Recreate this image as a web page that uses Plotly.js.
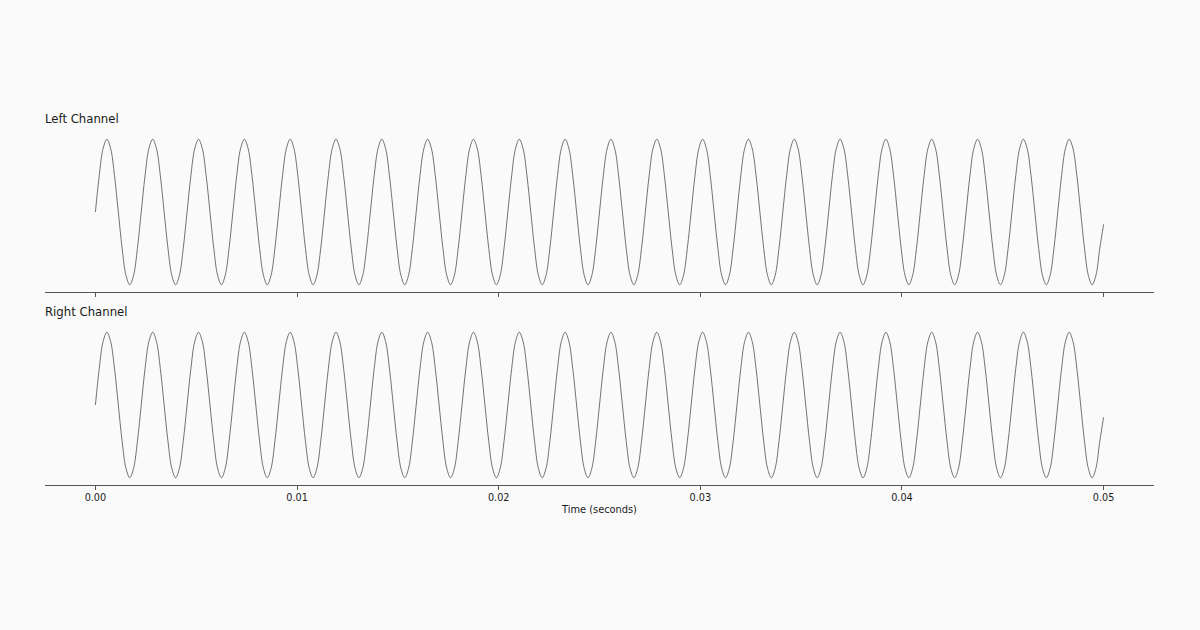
<!DOCTYPE html>
<html>
<head>
<meta charset="utf-8">
<script src="https://cdn.plot.ly/plotly-3.0.1.min.js"></script>
<style>
  html, body { margin: 0; padding: 0; background: #fafafa; }
  #chart { width: 1200px; height: 630px; }
</style>
</head>
<body>
<div id="chart"></div>
<script>
// 440 Hz tone, values read every 1/12 of a cycle (one step = 1/5280 s)
const SAMPLE_START = 0;
const SAMPLE_STEP = 1 / 5280;

const leftChannel = [
  0, 0.5, 0.87, 1, 0.87, 0.5, 0, -0.5, -0.87, -1, -0.87, -0.5,
  0, 0.5, 0.87, 1, 0.87, 0.5, 0, -0.5, -0.87, -1, -0.87, -0.5,
  0, 0.5, 0.87, 1, 0.87, 0.5, 0, -0.5, -0.87, -1, -0.87, -0.5,
  0, 0.5, 0.87, 1, 0.87, 0.5, 0, -0.5, -0.87, -1, -0.87, -0.5,
  0, 0.5, 0.87, 1, 0.87, 0.5, 0, -0.5, -0.87, -1, -0.87, -0.5,
  0, 0.5, 0.87, 1, 0.87, 0.5, 0, -0.5, -0.87, -1, -0.87, -0.5,
  0, 0.5, 0.87, 1, 0.87, 0.5, 0, -0.5, -0.87, -1, -0.87, -0.5,
  0, 0.5, 0.87, 1, 0.87, 0.5, 0, -0.5, -0.87, -1, -0.87, -0.5,
  0, 0.5, 0.87, 1, 0.87, 0.5, 0, -0.5, -0.87, -1, -0.87, -0.5,
  0, 0.5, 0.87, 1, 0.87, 0.5, 0, -0.5, -0.87, -1, -0.87, -0.5,
  0, 0.5, 0.87, 1, 0.87, 0.5, 0, -0.5, -0.87, -1, -0.87, -0.5,
  0, 0.5, 0.87, 1, 0.87, 0.5, 0, -0.5, -0.87, -1, -0.87, -0.5,
  0, 0.5, 0.87, 1, 0.87, 0.5, 0, -0.5, -0.87, -1, -0.87, -0.5,
  0, 0.5, 0.87, 1, 0.87, 0.5, 0, -0.5, -0.87, -1, -0.87, -0.5,
  0, 0.5, 0.87, 1, 0.87, 0.5, 0, -0.5, -0.87, -1, -0.87, -0.5,
  0, 0.5, 0.87, 1, 0.87, 0.5, 0, -0.5, -0.87, -1, -0.87, -0.5,
  0, 0.5, 0.87, 1, 0.87, 0.5, 0, -0.5, -0.87, -1, -0.87, -0.5,
  0, 0.5, 0.87, 1, 0.87, 0.5, 0, -0.5, -0.87, -1, -0.87, -0.5,
  0, 0.5, 0.87, 1, 0.87, 0.5, 0, -0.5, -0.87, -1, -0.87, -0.5,
  0, 0.5, 0.87, 1, 0.87, 0.5, 0, -0.5, -0.87, -1, -0.87, -0.5,
  0, 0.5, 0.87, 1, 0.87, 0.5, 0, -0.5, -0.87, -1, -0.87, -0.5,
  0, 0.5, 0.87, 1, 0.87, 0.5, 0, -0.5, -0.87, -1, -0.87, -0.5,
  -0.17
];

const rightChannel = [
  0, 0.5, 0.87, 1, 0.87, 0.5, 0, -0.5, -0.87, -1, -0.87, -0.5,
  0, 0.5, 0.87, 1, 0.87, 0.5, 0, -0.5, -0.87, -1, -0.87, -0.5,
  0, 0.5, 0.87, 1, 0.87, 0.5, 0, -0.5, -0.87, -1, -0.87, -0.5,
  0, 0.5, 0.87, 1, 0.87, 0.5, 0, -0.5, -0.87, -1, -0.87, -0.5,
  0, 0.5, 0.87, 1, 0.87, 0.5, 0, -0.5, -0.87, -1, -0.87, -0.5,
  0, 0.5, 0.87, 1, 0.87, 0.5, 0, -0.5, -0.87, -1, -0.87, -0.5,
  0, 0.5, 0.87, 1, 0.87, 0.5, 0, -0.5, -0.87, -1, -0.87, -0.5,
  0, 0.5, 0.87, 1, 0.87, 0.5, 0, -0.5, -0.87, -1, -0.87, -0.5,
  0, 0.5, 0.87, 1, 0.87, 0.5, 0, -0.5, -0.87, -1, -0.87, -0.5,
  0, 0.5, 0.87, 1, 0.87, 0.5, 0, -0.5, -0.87, -1, -0.87, -0.5,
  0, 0.5, 0.87, 1, 0.87, 0.5, 0, -0.5, -0.87, -1, -0.87, -0.5,
  0, 0.5, 0.87, 1, 0.87, 0.5, 0, -0.5, -0.87, -1, -0.87, -0.5,
  0, 0.5, 0.87, 1, 0.87, 0.5, 0, -0.5, -0.87, -1, -0.87, -0.5,
  0, 0.5, 0.87, 1, 0.87, 0.5, 0, -0.5, -0.87, -1, -0.87, -0.5,
  0, 0.5, 0.87, 1, 0.87, 0.5, 0, -0.5, -0.87, -1, -0.87, -0.5,
  0, 0.5, 0.87, 1, 0.87, 0.5, 0, -0.5, -0.87, -1, -0.87, -0.5,
  0, 0.5, 0.87, 1, 0.87, 0.5, 0, -0.5, -0.87, -1, -0.87, -0.5,
  0, 0.5, 0.87, 1, 0.87, 0.5, 0, -0.5, -0.87, -1, -0.87, -0.5,
  0, 0.5, 0.87, 1, 0.87, 0.5, 0, -0.5, -0.87, -1, -0.87, -0.5,
  0, 0.5, 0.87, 1, 0.87, 0.5, 0, -0.5, -0.87, -1, -0.87, -0.5,
  0, 0.5, 0.87, 1, 0.87, 0.5, 0, -0.5, -0.87, -1, -0.87, -0.5,
  0, 0.5, 0.87, 1, 0.87, 0.5, 0, -0.5, -0.87, -1, -0.87, -0.5,
  -0.17
];

const timeTicks = [0, 0.01, 0.02, 0.03, 0.04, 0.05];
const channelTitles = ["Left Channel", "Right Channel"];

const FONT = "DejaVu Sans, sans-serif";
const BG = "#fafafa";
const WAVE_COLOR = "#444444";
const AXIS_COLOR = "#555555";
const TEXT_COLOR = "#1a1a1a";

function waveTrace(values, xa, ya) {
  return {
    y: values,
    x0: SAMPLE_START,
    dx: SAMPLE_STEP,
    xaxis: xa,
    yaxis: ya,
    type: "scatter",
    mode: "lines",
    line: { color: WAVE_COLOR, width: 0.75, shape: "spline", smoothing: 1 },
    showlegend: false,
    hoverinfo: "skip",
  };
}

function timeAxis(showLabels, anchor) {
  return {
    anchor: anchor,
    range: [-0.0025, 0.0525],
    showline: true,
    linecolor: AXIS_COLOR,
    linewidth: 1,
    showgrid: false,
    zeroline: false,
    ticks: "outside",
    ticklen: 3.5,
    tickwidth: 1,
    tickcolor: AXIS_COLOR,
    tickvals: timeTicks,
    tickformat: ".2f",
    showticklabels: showLabels,
    tickfont: { family: FONT, size: 9.7, color: TEXT_COLOR },
  };
}

function channelAxis(domain, anchor) {
  return {
    anchor: anchor,
    domain: domain,
    range: [-1.1, 1.1],
    visible: false,
    fixedrange: true,
  };
}

const bottomAxis = timeAxis(true, "y2");
bottomAxis.matches = "x";
bottomAxis.title = {
  text: "Time (seconds)",
  font: { family: FONT, size: 9.8, color: TEXT_COLOR },
  standoff: 4,
};

function channelTitle(text, y) {
  return {
    text: text,
    xref: "paper", yref: "paper",
    x: -0.0018, y: y,
    xanchor: "left", yanchor: "middle",
    showarrow: false,
    font: { family: FONT, size: 11.7, color: TEXT_COLOR },
  };
}

const layout = {
  width: 1200,
  height: 630,
  paper_bgcolor: BG,
  plot_bgcolor: BG,
  margin: { l: 45, r: 46, t: 132, b: 145 },
  font: { family: FONT, color: TEXT_COLOR },
  xaxis: timeAxis(false, "y"),
  yaxis: channelAxis([0.5467, 1], "x"),
  xaxis2: bottomAxis,
  yaxis2: channelAxis([0, 0.4533], "x2"),
  annotations: [
    channelTitle(channelTitles[0], 1.0375),
    channelTitle(channelTitles[1], 0.4905),
  ],
};

Plotly.newPlot(
  "chart",
  [waveTrace(leftChannel, "x", "y"), waveTrace(rightChannel, "x2", "y2")],
  layout,
  { displayModeBar: false, staticPlot: true }
);
</script>
</body>
</html>
